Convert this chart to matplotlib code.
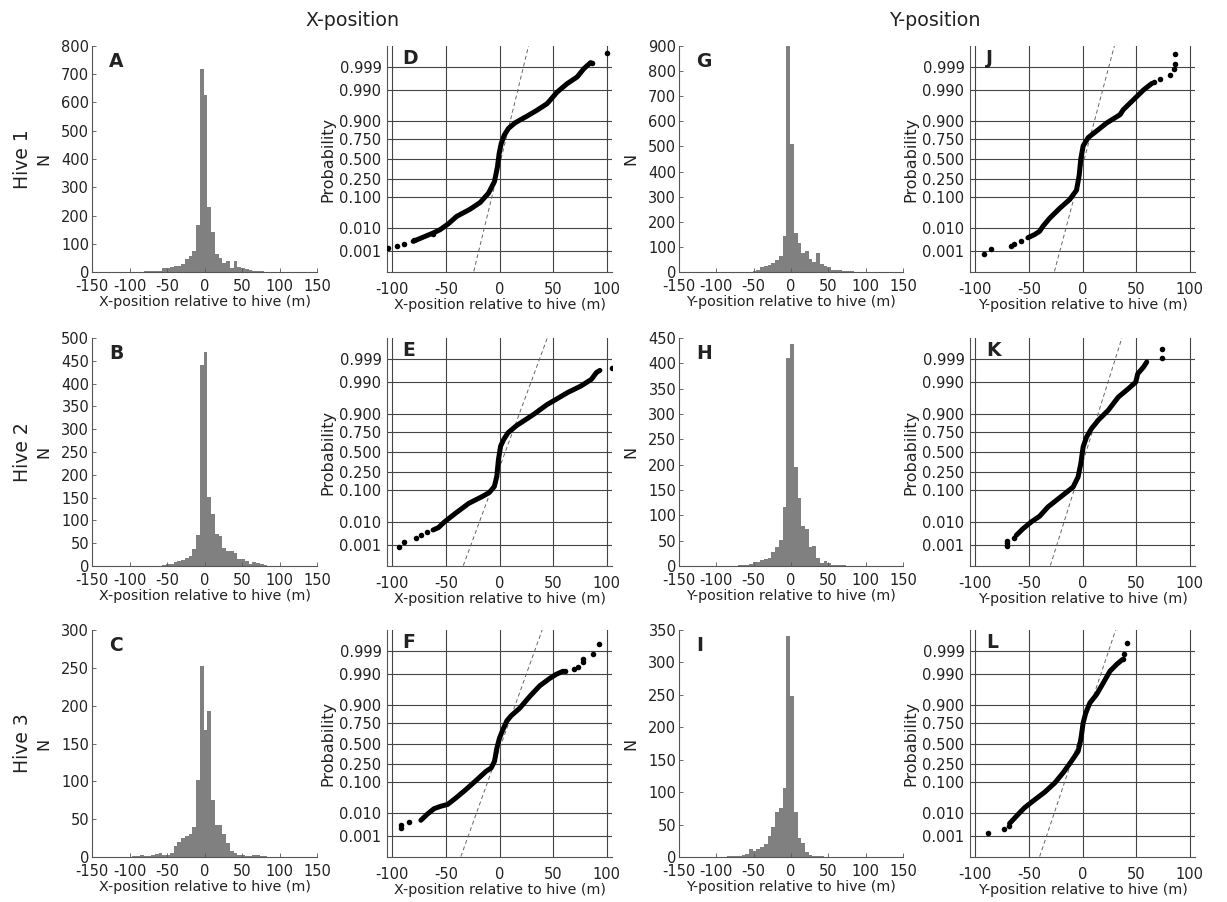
import matplotlib.pyplot as plt
import numpy as np
from statistics import NormalDist

plt.rcParams['font.family'] = 'DejaVu Sans'
plt.rcParams['axes.unicode_minus'] = False

W, H = 1227, 902

# histogram bins (m) and counts
bin_centers = np.arange(-103.75, 102, 5)
hist_A = [1, 0, 1, 1, 1, 2, 2, 3, 3, 5, 13, 15, 17, 20, 22, 30, 45, 58, 73, 165,
          720, 625, 230, 140, 62, 48, 32, 38, 15, 40, 18, 14, 12, 6, 5, 3, 2, 1, 1, 0, 0, 0]
hist_B = [0, 0, 0, 0, 0, 0, 0, 1, 1, 1, 2, 4, 5, 8, 12, 14, 18, 22, 37, 68,
          440, 470, 152, 113, 70, 65, 40, 33, 33, 28, 15, 15, 12, 5, 8, 7, 4, 2, 1, 0, 0, 0]
hist_C = [0, 0, 1, 1, 2, 1, 1, 2, 4, 5, 3, 3, 5, 15, 20, 25, 28, 30, 40, 102,
          252, 168, 193, 75, 42, 42, 30, 18, 8, 5, 3, 2, 1, 1, 2, 3, 1, 1, 0, 0, 0, 0]
hist_G = [0, 0, 0, 0, 0, 0, 0, 0, 1, 1, 1, 2, 6, 18, 22, 27, 35, 48, 65, 145,
          900, 510, 155, 115, 75, 85, 50, 38, 75, 30, 22, 18, 8, 7, 6, 3, 3, 2, 1, 0, 0, 0]
hist_H = [0, 0, 0, 0, 0, 0, 0, 1, 2, 2, 3, 7, 8, 12, 14, 15, 28, 38, 52, 117,
          410, 438, 195, 135, 78, 73, 37, 40, 15, 5, 10, 5, 2, 1, 1, 1, 0, 0, 0, 0, 0, 0]
hist_I = [0, 0, 0, 0, 1, 1, 1, 2, 3, 5, 12, 10, 12, 15, 20, 33, 46, 70, 75, 107,
          340, 248, 70, 30, 22, 8, 3, 2, 2, 1, 0, 0, 0, 0, 0, 0, 0, 0, 0, 0, 0, 0]

# normal probability plots: position (m) vs normal quantile
line_D_x = [-80.6, -68, -62, -55.6, -47.8, -40, -27.5, -18, -10.3, -4.7, -1.9, -0.3, 1.6,
            4.4, 8.4, 14.7, 25.6, 35, 44.4, 53.8, 63, 72.5, 78.8, 85]
line_D_z = [-2.77, -2.58, -2.49, -2.38, -2.18, -1.93, -1.69, -1.46, -1.15, -0.76, -0.26, 0.19,
            0.52, 0.80, 1.03, 1.22, 1.44, 1.64, 1.86, 2.25, 2.53, 2.76, 3.04, 3.24]
dots_D_x = [-104, -95.3, -89, -79.7, -62.5, 86.6, 100.6]
dots_D_z = [-2.99, -2.91, -2.85, -2.73, -2.52, 3.24, 3.56]
ref_D = [-25.5, 28.4]

line_E_x = [-62, -57, -51, -41, -28.6, -15.9, -9.5, -4.8, -2.5, -1, 1, 3.8, 7.9, 15.9,
            31.7, 44.4, 63.5, 76, 85.7, 90.5, 93.7]
line_E_z = [-2.6, -2.52, -2.32, -2.04, -1.71, -1.48, -1.35, -1.15, -0.81, -0.26, 0.19, 0.41,
            0.64, 0.88, 1.25, 1.58, 1.98, 2.2, 2.42, 2.65, 2.72]
dots_E_x = [-93.7, -88.9, -77.8, -73, -68, 104.8]
dots_E_z = [-3.16, -2.99, -2.85, -2.75, -2.68, 2.79]
ref_E = [-36, 46.7]

line_F_x = [-73.4, -67.2, -61, -54.7, -48.4, -40.6, -31.3, -21.9, -12.5, -7.8, -4.7, -2.5, 0,
            3.1, 6.9, 10.9, 18.8, 28.1, 37.5, 46.9, 53.1, 59.4]
line_F_z = [-2.57, -2.36, -2.18, -2.1, -2.04, -1.82, -1.54, -1.24, -0.93, -0.82, -0.6, -0.16,
            0.18, 0.46, 0.76, 0.93, 1.18, 1.57, 1.93, 2.18, 2.32, 2.42]
dots_F_x = [-92.2, -92.2, -84.4, 61, 69.4, 73.5, 77.5, 78, 86.9, 93.1]
dots_F_z = [-2.82, -2.73, -2.63, 2.43, 2.49, 2.57, 2.73, 2.84, 3.01, 3.34]
ref_F = [-38.2, 41.8]

line_J_x = [-51, -44.7, -40, -36.9, -30.6, -21.3, -11.9, -5.6, -3.1, -1.6, 0.6, 5.3, 13.1,
            22.5, 35, 38.1, 47.5, 56.9, 64.7]
line_J_z = [-2.65, -2.54, -2.43, -2.26, -1.99, -1.66, -1.36, -1.05, -0.55, 0, 0.44, 0.72,
            0.94, 1.21, 1.49, 1.66, 1.99, 2.32, 2.54]
dots_J_x = [-91.6, -85.3, -66.6, -64, -57.2, 66.9, 72.5, 81.9, 85.6, 86.6, 86.6]
dots_J_z = [-3.2, -3.04, -2.92, -2.87, -2.76, 2.59, 2.7, 2.81, 3.04, 3.2, 3.53]
ref_J = [-27.8, 31.2]

line_K_x = [-61.9, -55.6, -47.8, -40, -32.2, -24.4, -16.6, -8.8, -4.1, -1.6, 0.6, 3.8, 8.4,
            14.7, 24, 33.4, 42.8, 49.7, 51.6, 56.9, 60]
line_K_z = [-2.78, -2.56, -2.33, -2.14, -1.83, -1.61, -1.39, -1.17, -0.83, -0.39, 0.17, 0.5,
            0.78, 1.06, 1.39, 1.83, 2.11, 2.33, 2.61, 2.83, 3.0]
dots_K_x = [-70.3, -70.3, -70.3, -64, 74, 74]
dots_K_z = [-3.14, -3.03, -2.95, -2.86, 3.14, 3.44]
ref_K = [-31.9, 38.5]

line_L_x = [-68.1, -60.3, -54.1, -46.3, -35.3, -25.9, -18.1, -10.3, -4.1, -1.6, 0.6, 3.1,
            6.9, 13.1, 19.4, 25.6, 31.9, 37.2]
line_L_z = [-2.68, -2.38, -2.15, -1.93, -1.63, -1.32, -0.98, -0.59, -0.26, 0.13, 0.69, 1.03,
            1.36, 1.64, 2.03, 2.42, 2.65, 2.81]
dots_L_x = [-87.8, -73.4, -68.8, 38.1, 39.1, 41.3]
dots_L_z = [-3.01, -2.86, -2.75, 2.83, 3.01, 3.35]
ref_L = [-42, 32.8]

prob_ticks = [0.001, 0.01, 0.1, 0.25, 0.5, 0.75, 0.9, 0.99, 0.999]

tick_size = 10.5
label_size = 11.5
letter_size = 13.5
grid_col = '#444444'

fig = plt.figure(figsize=(W / 100, H / 100), dpi=100)


def box(left, top, width, bottom):
    return fig.add_axes([left / W, 1 - bottom / H, width / W, (bottom - top) / H])


def draw_hist(ax, counts, ymax, ystep, letter, xlabel):
    ax.bar(bin_centers, counts, width=5, color='#808080', linewidth=0)
    ax.set_xlim(-150, 150)
    ax.set_ylim(0, ymax)
    ax.set_xticks(range(-150, 151, 50))
    ax.set_yticks(np.arange(0, ymax + 1, ystep))
    for s in ['top', 'right']:
        ax.spines[s].set_visible(False)
    for s in ['left', 'bottom']:
        ax.spines[s].set_color('#555555')
        ax.spines[s].set_linewidth(0.8)
    ax.tick_params(direction='in', length=3, width=0.6, color='#555555',
                   labelsize=tick_size, labelcolor='#222222')
    ax.tick_params(axis='x', pad=5)
    ax.tick_params(axis='y', pad=2)
    ax.set_ylabel('N', fontsize=label_size, labelpad=7, color='#222222')
    ax.set_xlabel(xlabel, fontsize=10.3, labelpad=1, color='#222222')
    ax.text(0.075, 0.975, letter, transform=ax.transAxes, fontsize=letter_size,
            fontweight='bold', ha='left', va='top', color='#222222')


def draw_prob(ax, lx, lz, dx, dz, ref, letter, xlabel):
    nd = NormalDist()
    zt = [nd.inv_cdf(p) for p in prob_ticks]
    ax.set_xlim(-105, 105)
    ax.set_ylim(-3.8, 3.8)
    for z in zt:
        ax.axhline(z, color=grid_col, lw=0.8, zorder=1)
    for x in range(-100, 101, 50):
        ax.axvline(x, color=grid_col, lw=0.8, zorder=1)
    ax.plot(ref, [-4, 4], color='#666666', lw=0.7, dashes=(4, 3), zorder=2)
    ax.plot(lx, lz, color='black', lw=3.6, solid_capstyle='round',
            solid_joinstyle='round', zorder=3)
    ax.plot(dx, dz, 'o', color='black', ms=4, mew=0, zorder=3)
    ax.set_xticks(range(-100, 101, 50))
    ax.set_yticks(zt)
    ax.set_yticklabels(['%.3f' % p for p in prob_ticks])
    for s in ['top', 'right']:
        ax.spines[s].set_visible(False)
    for s in ['left', 'bottom']:
        ax.spines[s].set_color('#555555')
        ax.spines[s].set_linewidth(0.8)
    ax.tick_params(length=0, labelsize=tick_size, labelcolor='#222222')
    ax.tick_params(axis='x', pad=7)
    ax.tick_params(axis='y', pad=4)
    ax.set_ylabel('Probability', fontsize=label_size, labelpad=3, color='#222222')
    ax.set_xlabel(xlabel, fontsize=10.3, labelpad=1, color='#222222')
    ax.text(0.07, 0.985, letter, transform=ax.transAxes, fontsize=letter_size,
            fontweight='bold', ha='left', va='top', color='#222222')


xl = 'X-position relative to hive (m)'
yl = 'Y-position relative to hive (m)'
rows = [(46, 272), (338, 566), (630, 857)]

hists_x = [(hist_A, 800, 100, 'A'), (hist_B, 500, 50, 'B'), (hist_C, 300, 50, 'C')]
hists_y = [(hist_G, 900, 100, 'G'), (hist_H, 450, 50, 'H'), (hist_I, 350, 50, 'I')]
probs_x = [(line_D_x, line_D_z, dots_D_x, dots_D_z, ref_D, 'D'),
           (line_E_x, line_E_z, dots_E_x, dots_E_z, ref_E, 'E'),
           (line_F_x, line_F_z, dots_F_x, dots_F_z, ref_F, 'F')]
probs_y = [(line_J_x, line_J_z, dots_J_x, dots_J_z, ref_J, 'J'),
           (line_K_x, line_K_z, dots_K_x, dots_K_z, ref_K, 'K'),
           (line_L_x, line_L_z, dots_L_x, dots_L_z, ref_L, 'L')]

for i, (top, bottom) in enumerate(rows):
    draw_hist(box(92, top, 225, bottom), *hists_x[i], xl)
    draw_prob(box(387, top, 225, bottom), *probs_x[i], xl)
    draw_hist(box(679, top, 224, bottom), *hists_y[i], yl)
    draw_prob(box(970, top, 225, bottom), *probs_y[i], yl)
    fig.text(22 / W, 1 - (top + bottom) / 2 / H, 'Hive %d' % (i + 1), rotation=90,
             fontsize=13.5, ha='center', va='center', color='#222222')

fig.text(352 / W, 1 - 21 / H, 'X-position', fontsize=13.7, ha='center', va='center',
         color='#222222')
fig.text(935 / W, 1 - 21 / H, 'Y-position', fontsize=13.7, ha='center', va='center',
         color='#222222')

fig.savefig('out.png', dpi=100)
